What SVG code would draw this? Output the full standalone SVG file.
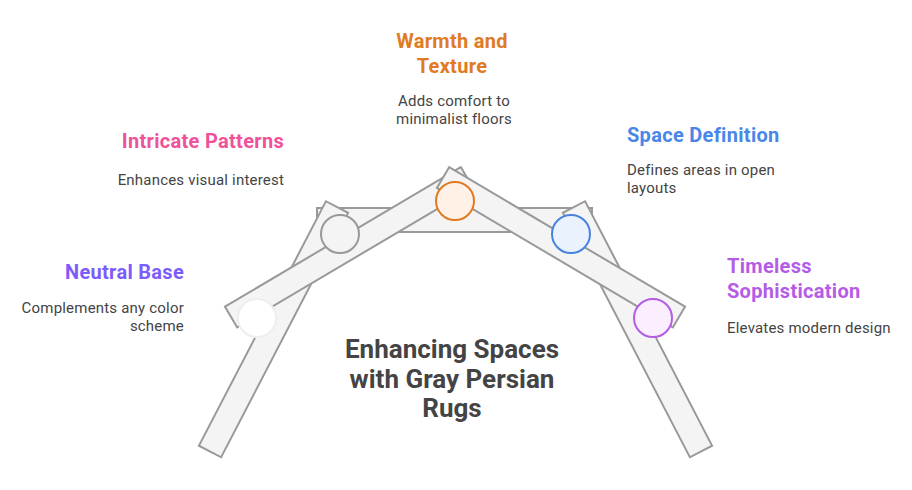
<svg xmlns="http://www.w3.org/2000/svg" width="912" height="490" viewBox="0 0 912 490">
<style>
.bar{fill:#f4f4f4;stroke:#999;stroke-width:2;stroke-linejoin:miter}
.h{font-family:Roboto,'Liberation Sans',sans-serif;font-weight:700;font-size:20px;letter-spacing:0.3px}
.d{font-family:Roboto,'Liberation Sans',sans-serif;font-size:15px;letter-spacing:0.2px;fill:#444}
.t{font-family:Roboto,'Liberation Sans',sans-serif;font-weight:700;font-size:26px;fill:#444}
</style>
<rect width="912" height="490" fill="#fff"/>
<g id="frame">
<rect class="bar" x="317" y="208" width="275" height="24"/>
<rect class="bar" x="-137.75" y="-12.5" width="275.5" height="25" transform="translate(273.5,329.25) rotate(-62.55)"/>
<rect class="bar" x="-137.75" y="-12.5" width="275.5" height="25" transform="translate(637.5,329.25) rotate(62.55)"/>
<rect class="bar" x="-137" y="-12" width="274" height="24" transform="translate(349,247.25) rotate(-30.59)"/>
<rect class="bar" x="-137" y="-12" width="274" height="24" transform="translate(561,247.25) rotate(30.59)"/>
</g>
<g id="neutral-base">
<circle cx="257" cy="318" r="19" fill="#fff" stroke="#eeeeee" stroke-width="2"/>
<text class="h" x="184" y="279" text-anchor="end" fill="#7c5cfc">Neutral Base</text>
<text class="d" x="184" y="313" text-anchor="end">Complements any color</text>
<text class="d" x="184" y="331" text-anchor="end">scheme</text>
</g>
<g id="intricate-patterns">
<circle cx="340" cy="234" r="19" fill="#f4f4f4" stroke="#999" stroke-width="2"/>
<text class="h" x="284" y="148" text-anchor="end" fill="#f0529a">Intricate Patterns</text>
<text class="d" x="284" y="185" text-anchor="end">Enhances visual interest</text>
</g>
<g id="warmth-texture">
<circle cx="455" cy="201" r="19" fill="#fff1e5" stroke="#e07b24" stroke-width="2"/>
<text class="h" x="452" y="48" text-anchor="middle" fill="#e07b24">Warmth and</text>
<text class="h" x="452" y="73" text-anchor="middle" fill="#e07b24">Texture</text>
<text class="d" x="454" y="106" text-anchor="middle">Adds comfort to</text>
<text class="d" x="454" y="124" text-anchor="middle">minimalist floors</text>
</g>
<g id="space-definition">
<circle cx="571" cy="234" r="19" fill="#eaf2fe" stroke="#4a82e0" stroke-width="2"/>
<text class="h" x="627" y="142" fill="#4a86e8">Space Definition</text>
<text class="d" x="627" y="175">Defines areas in open</text>
<text class="d" x="627" y="193">layouts</text>
</g>
<g id="timeless-sophistication">
<circle cx="653" cy="318" r="19" fill="#fbeefe" stroke="#b45ce6" stroke-width="2"/>
<text class="h" x="727" y="273" fill="#b45ce6">Timeless</text>
<text class="h" x="727" y="298" fill="#b45ce6">Sophistication</text>
<text class="d" x="727" y="333">Elevates modern design</text>
</g>
<g id="title">
<text class="t" x="452" y="358" text-anchor="middle">Enhancing Spaces</text>
<text class="t" x="452" y="388" text-anchor="middle">with Gray Persian</text>
<text class="t" x="452" y="417" text-anchor="middle">Rugs</text>
</g>
</svg>
